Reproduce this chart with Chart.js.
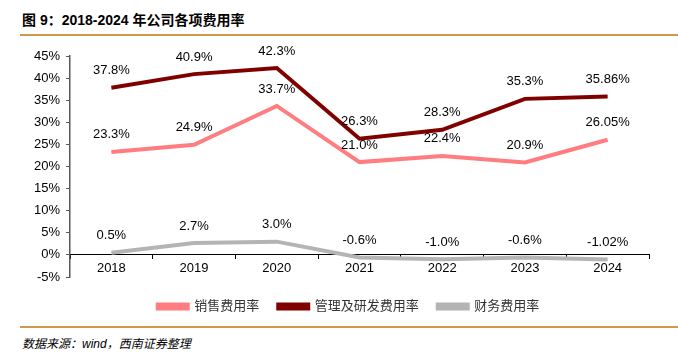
<!DOCTYPE html>
<html>
<head>
<meta charset="utf-8">
<script src="https://cdn.jsdelivr.net/npm/chart.js@4.4.1/dist/chart.umd.min.js"></script>
<style>
  body { margin: 0; width: 678px; height: 352px; background: #fff; position: relative; overflow: hidden; }
  #title { position: absolute; left: 22px; top: 9px; font: bold 14px "Liberation Sans", "Noto Sans CJK SC", sans-serif; color: #000; }
  .rule { position: absolute; left: 20px; right: 0; height: 2px; background: #CC9A4A; }
  #source { position: absolute; left: 22px; top: 334px; font: italic 12px "Liberation Sans", "Noto Sans CJK SC", sans-serif; color: #000; }
  #wrap { position: absolute; left: 0; top: 40px; width: 678px; height: 285px; }
</style>
</head>
<body>
<div id="title">图 9：2018-2024 年公司各项费用率</div>
<div class="rule" style="top:34px"></div>
<div id="wrap"><canvas id="chart"></canvas></div>
<div class="rule" style="top:326px;height:1.5px"></div>
<div id="source">数据来源：wind，西南证券整理</div>
<script>
const years = ['2018', '2019', '2020', '2021', '2022', '2023', '2024'];
const salesRate = [23.3, 24.9, 33.7, 21.0, 22.4, 20.9, 26.05];
const adminRate = [37.8, 40.9, 42.3, 26.3, 28.3, 35.3, 35.86];
const financeRate = [0.5, 2.7, 3.0, -0.6, -1.0, -0.6, -1.02];
const salesLabels = ['23.3%', '24.9%', '33.7%', '21.0%', '22.4%', '20.9%', '26.05%'];
const adminLabels = ['37.8%', '40.9%', '42.3%', '26.3%', '28.3%', '35.3%', '35.86%'];
const financeLabels = ['0.5%', '2.7%', '3.0%', '-0.6%', '-1.0%', '-0.6%', '-1.02%'];

const FONT = '"Liberation Sans", "Noto Sans CJK SC", sans-serif';

// text above each point
const pointLabels = {
    id: 'pointLabels',
    afterDatasetsDraw(chart) {
        const ctx = chart.ctx;
        ctx.save();
        ctx.font = '13px ' + FONT;
        ctx.fillStyle = '#000';
        ctx.textAlign = 'center';
        ctx.textBaseline = 'middle';
        chart.data.datasets.forEach((ds, i) => {
            chart.getDatasetMeta(i).data.forEach((pt, j) => {
                ctx.fillText(ds.texts[j], pt.x, pt.y - 17);
            });
        });
        ctx.restore();
    }
};

// y axis is kept narrow so the legend centres under the plot; let its labels spill left
const noLabelClip = {
    id: 'noLabelClip',
    afterLayout(chart) {
        chart.scales.y._computeLabelArea = () => undefined;
    }
};

new Chart(document.getElementById('chart'), {
    type: 'line',
    data: {
        labels: years,
        datasets: [
            { label: '销售费用率', data: salesRate, texts: salesLabels, borderColor: '#FF7C80', backgroundColor: '#FF7C80' },
            { label: '管理及研发费用率', data: adminRate, texts: adminLabels, borderColor: '#800000', backgroundColor: '#800000' },
            { label: '财务费用率', data: financeRate, texts: financeLabels, borderColor: '#B4B4B4', backgroundColor: '#B4B4B4' }
        ]
    },
    options: {
        responsive: true,
        maintainAspectRatio: false,
        animation: false,
        layout: { padding: { top: 16, right: 29, bottom: 2, left: 48 } },
        elements: {
            line: { borderWidth: 4, tension: 0, borderCapStyle: 'butt' },
            point: { radius: 0, hoverRadius: 0 }
        },
        scales: {
            x: {
                position: { y: 0 },
                offset: true,
                grid: { offset: true, drawOnChartArea: false, drawTicks: true, tickLength: 4, color: '#000' },
                border: { color: '#000', width: 1 },
                ticks: { color: '#000', font: { size: 13, family: FONT }, padding: 2 }
            },
            gap: {
                type: 'category',
                position: 'bottom',
                grid: { display: false },
                border: { display: false },
                ticks: { display: false },
                afterFit(scale) { scale.height = 4; }
            },
            y: {
                min: -5,
                max: 45,
                afterFit(scale) { scale.width = 22; },
                grid: { drawOnChartArea: false, drawTicks: true, tickLength: 4, color: '#595959' },
                border: { color: '#595959', width: 1.5 },
                ticks: { stepSize: 5, color: '#000', font: { size: 13, family: FONT }, padding: 6, callback: v => v + '%' }
            }
        },
        plugins: {
            legend: {
                position: 'bottom',
                labels: {
                    boxWidth: 30,
                    boxHeight: 4,
                    padding: 19,
                    color: '#333',
                    font: { size: 13, family: FONT }
                }
            },
            tooltip: { enabled: false }
        }
    },
    plugins: [pointLabels, noLabelClip]
});
</script>
</body>
</html>
